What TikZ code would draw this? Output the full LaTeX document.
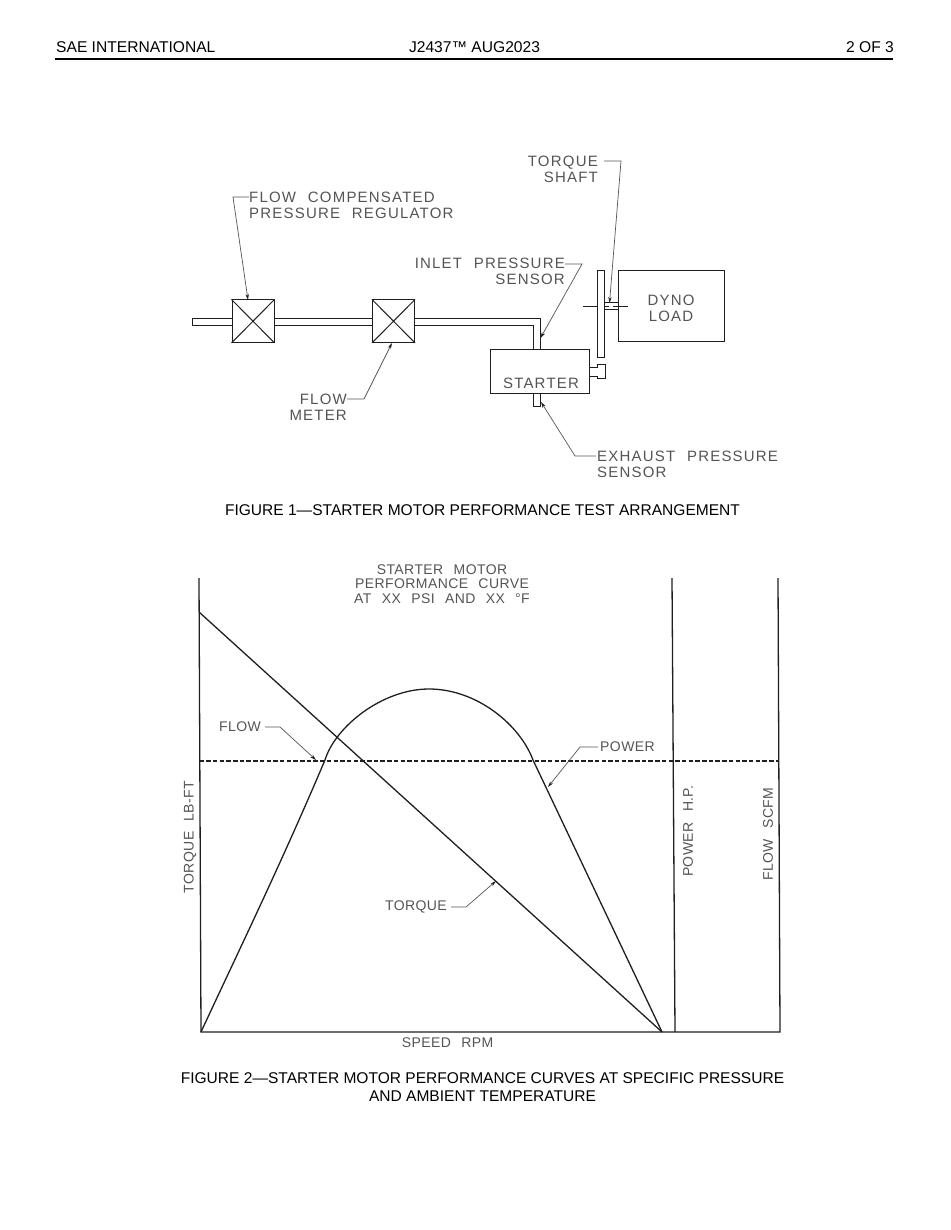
\documentclass[tikz,border=0pt]{standalone}
\usepackage{fontspec}
\setmainfont{Liberation Sans}
\newfontfamily\cadfont[LetterSpace=8,WordSpace=2.2]{Liberation Sans}
\newfontfamily\cadsmallfont[LetterSpace=3,WordSpace=2.4]{Liberation Sans}
\usetikzlibrary{arrows.meta}
\definecolor{ink}{gray}{0.12}
\definecolor{cadink}{gray}{0.33}
\tikzset{
  x=1pt,y=-1pt,
  hdr/.style={inner sep=0pt,font=\fontsize{15.6}{18}\selectfont,text=black},
  captxt/.style={inner sep=0pt,align=center,font=\fontsize{15.55}{18}\selectfont,text=black},
  cad/.style={inner sep=0pt,text=cadink,font=\cadfont\fontsize{15}{15.8}\selectfont},
  cadsmall/.style={inner sep=0pt,text=cadink,font=\cadsmallfont\fontsize{14}{14.6}\selectfont},
  part/.style={draw=ink,line width=1pt,inner sep=0pt,fill=white},
  ln/.style={draw=ink,line width=1pt},
  curve/.style={draw=ink,line width=1.3pt},
  leader/.style={draw=cadink,line width=.7pt},
  tipped/.style={leader,-{Stealth[length=6pt,width=3.4pt,color=ink]}}
}
\begin{document}
\begin{tikzpicture}
\useasboundingbox (0,0) rectangle (950,1230);
% header
\node[hdr,anchor=west] (hl) at (56,47) {SAE INTERNATIONAL};
\node[hdr] (hc) at (474.5,47) {J2437™ AUG2023};
\node[hdr,anchor=east] (hr) at (894,47) {2 OF 3};
\coordinate (ruleL) at (55,59); \coordinate (ruleR) at (893,59);
\draw[black,line width=1.6pt] (ruleL) -- (ruleR);

% Figure 1 pipes
\draw[ln] (232,318) -- (192,318) -- (192,325) -- (232,325);
\draw[ln] (274,318) -- (372.5,318) (274,325) -- (372.5,325);
\draw[ln] (414.5,318) -- (540,318) -- (540,349);
\draw[ln] (414.5,325) -- (533.5,325) -- (533.5,349);
% parts
\node[part,minimum width=42pt,minimum height=42.5pt] (fcr) at (253,321.2) {};
\node[part,minimum width=42pt,minimum height=42.5pt] (fm) at (393.5,321.2) {};
\draw[ln] (fcr.north west) -- (fcr.south east) (fcr.north east) -- (fcr.south west);
\draw[ln] (fm.north west) -- (fm.south east) (fm.north east) -- (fm.south west);
\node[part,minimum width=99.5pt,minimum height=44.5pt] (starter) at (539.8,371.3) {};
\node[part,minimum width=106pt,minimum height=71pt] (dyno) at (671,306) {};
\coordinate (shaftL) at (583,306); \coordinate (shaftR) at (628,306);
\coordinate (hubA) at (609,306); \coordinate (hubB) at (613,306);
\draw[ln] (shaftL) -- (hubA) (hubB) -- (shaftR);
\node[part,minimum width=7pt,minimum height=87pt] (disk) at (600.5,314) {};
\draw[ln] (533.5,393.5) -- (533.5,406) -- (540,406) -- (540,393.5);
\draw[ln] (589.5,367) -- (597,367) -- (597,364) -- (605,364) -- (605,378) -- (597,378) -- (597,376) -- (589.5,376);
\draw[ln] (604,302.5) -- (618,302.5) (604,309.5) -- (618,309.5);
\node[cad] at (541,383.5) {STARTER};
\node[cad,align=center] at (671,308.5) {DYNO\\LOAD};
% labels fig 1
\node[cad,align=right,anchor=east] (lts) at (598,169.5) {TORQUE\\SHAFT};
\node[cad,align=left,anchor=west] (lfc) at (249,205) {FLOW COMPENSATED\\PRESSURE REGULATOR};
\node[cad,align=right,anchor=east] (lip) at (565,271.5) {INLET PRESSURE\\SENSOR};
\node[cad,align=right,anchor=east] (lfm) at (347,407.5) {FLOW\\METER};
\node[cad,align=left,anchor=west] (lex) at (597,464.5) {EXHAUST PRESSURE\\SENSOR};
% leaders fig 1
\coordinate (a1s) at (604,161); \coordinate (a1k) at (621,161); \coordinate (a1e) at (609.5,303);
\draw[tipped] (a1s) -- (a1k) -- (a1e);
\coordinate (a2s) at (249,197); \coordinate (a2k) at (233,197); \coordinate (a2e) at (248,300);
\draw[tipped] (a2s) -- (a2k) -- (a2e);
\coordinate (a3s) at (565,264); \coordinate (a3k) at (582,264); \coordinate (a3e) at (540.5,338);
\draw[tipped] (a3s) -- (a3k) -- (a3e);
\coordinate (a4s) at (347,399); \coordinate (a4k) at (364,399); \coordinate (a4e) at (392,343);
\draw[tipped] (a4s) -- (a4k) -- (a4e);
\coordinate (a5s) at (596,456); \coordinate (a5k) at (575,456); \coordinate (a5e) at (541,402);
\draw[tipped] (a5s) -- (a5k) -- (a5e);
\node[captxt] at (482.5,510) {FIGURE 1—STARTER MOTOR PERFORMANCE TEST ARRANGEMENT};

% Figure 2
\coordinate (o) at (201,1032); \coordinate (end) at (780,1032); \coordinate (zero) at (662,1032);
\draw[curve] (199,578) -- (o) -- (end) -- (778,578);
\draw[curve] (672,578) -- (675,1032);
\draw[curve] (199,612) -- (zero);
\draw[curve] (o) .. controls (240,948) and (280,866) .. (325,760)
  .. controls (335,727) and (382,689) .. (429,689)
  .. controls (477,689) and (520,725) .. (533,760) -- (zero);
\draw[ink,line width=1.1pt,dash pattern=on 4.5pt off 2.2pt] (199.5,761) -- (778,761);
\node[cadsmall,align=center] at (442,584) {STARTER MOTOR\\PERFORMANCE CURVE\\AT XX PSI AND XX °F};
\node[cadsmall,anchor=west] (lflow) at (219,727) {FLOW};
\node[cadsmall,anchor=west] (lpow) at (600,747) {POWER};
\node[cadsmall,anchor=east] (ltq) at (447,907) {TORQUE};
\node[cadsmall] at (447.5,1043) {SPEED RPM};
\node[cadsmall,rotate=90] at (190,837) {TORQUE LB-FT};
\node[cadsmall,rotate=90] at (688,831) {POWER H.P.};
\node[cadsmall,rotate=90] at (768,834) {FLOW SCFM};
\coordinate (b1s) at (265,727); \coordinate (b1k) at (280,727); \coordinate (b1e) at (316,760);
\draw[tipped] (b1s) -- (b1k) -- (b1e);
\coordinate (b2s) at (598,747); \coordinate (b2k) at (580,747); \coordinate (b2e) at (548,787);
\draw[tipped] (b2s) -- (b2k) -- (b2e);
\coordinate (b3s) at (451,907); \coordinate (b3k) at (466,907); \coordinate (b3e) at (496,881);
\draw[tipped] (b3s) -- (b3k) -- (b3e);
\node[captxt] at (482.5,1087) {FIGURE 2—STARTER MOTOR PERFORMANCE CURVES AT SPECIFIC PRESSURE\\AND AMBIENT TEMPERATURE};
\end{tikzpicture}
\end{document}
